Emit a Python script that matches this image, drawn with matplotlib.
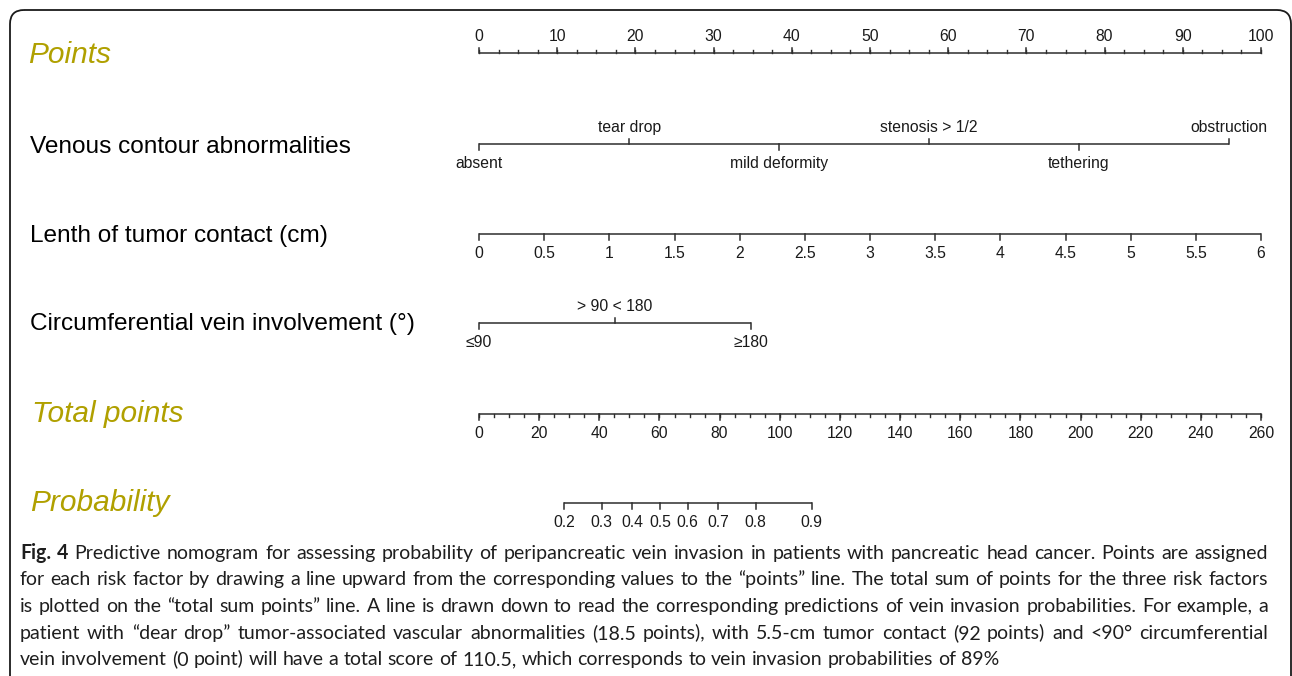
import numpy as np
import matplotlib
matplotlib.use('Agg')
import matplotlib.pyplot as plt
from matplotlib.patches import FancyBboxPatch

W, H = 1292, 676
X0, X100 = 479, 1261  # pixel columns of 0 and 100 points
OLIVE = '#b0a000'
INK = '#2e2e2e'
AXIS_FONT = 'Liberation Sans'
CAPTION_FONT = 'Lato'

# ---- data ----
points_ticks = [0, 10, 20, 30, 40, 50, 60, 70, 80, 90, 100]

venous_labels = ['absent', 'tear drop', 'mild deformity', 'stenosis > 1/2', 'tethering', 'obstruction']
venous_points = [0, 19.2, 38.4, 57.5, 76.7, 95.9]
venous_above = [False, True, False, True, False, True]

length_cm = [0, 0.5, 1, 1.5, 2, 2.5, 3, 3.5, 4, 4.5, 5, 5.5, 6]
length_max_points = 100

circ_labels = ['\u226490', '> 90 < 180', '\u2265180']
circ_points = [0, 17.4, 34.8]
circ_above = [False, True, False]

total_ticks = [0, 20, 40, 60, 80, 100, 120, 140, 160, 180, 200, 220, 240, 260]
total_max = 260

prob_labels = ['0.2', '0.3', '0.4', '0.5', '0.6', '0.7', '0.8', '0.9']
prob_total = [28.4, 40.8, 50.9, 60.2, 69.4, 79.6, 92.0, 110.6]

row_names = ['Points', 'Venous contour abnormalities', 'Lenth of tumor contact (cm)',
             'Circumferential vein involvement (\u00b0)', 'Total points', 'Probability']
row_title = [True, False, False, False, True, True]
row_y = [53, 144, 234, 323, 414, 503]
name_base = [63, 153, 242, 330, 422, 511]
name_x = [28, 30, 30, 30, 32, 30]

caption = [
    'Predictive nomogram for assessing probability of peripancreatic vein invasion in patients with pancreatic head cancer. Points are assigned',
    'for each risk factor by drawing a line upward from the corresponding values to the \u201cpoints\u201d line. The total sum of points for the three risk factors',
    'is plotted on the \u201ctotal sum points\u201d line. A line is drawn down to read the corresponding predictions of vein invasion probabilities. For example, a',
    'patient with \u201cdear drop\u201d tumor-associated vascular abnormalities (18.5 points), with 5.5-cm tumor contact (92 points) and <90\u00b0 circumferential',
    'vein involvement (0 point) will have a total score of 110.5, which corresponds to vein invasion probabilities of 89%',
]
caption_base = [559, 585, 612, 639, 665]

fig = plt.figure(figsize=(W / 100, H / 100), dpi=100)
frame = fig.add_axes([0, 0, 1, 1])
frame.set_xlim(0, W)
frame.set_ylim(H, 0)
frame.axis('off')

ppp = (X100 - X0) / 100.0
ax = fig.add_axes([0, 0, 1, 1])
ax.set_xlim(-X0 / ppp, (W - X0) / ppp)
ax.set_ylim(H, 0)
ax.axis('off')

frame.add_patch(FancyBboxPatch((10, 10), 1291 - 10, 700, boxstyle='round,pad=0,rounding_size=14',
                               fc='none', ec='#1a1a1a', lw=1.3, clip_on=False))


def scale(y, pos, labels, above, minor=None, tick=5.5, fs=11.3):
    ax.plot([min(pos), max(pos)], [y, y], color=INK, lw=1.1, solid_capstyle='butt')
    if minor is not None:
        for m in minor:
            d = -1 if above[0] else 1
            ax.plot([m, m], [y, y + d * tick * 0.55], color=INK, lw=1.0)
    for p, lab, up in zip(pos, labels, above):
        d = -1 if up else 1
        ax.plot([p, p], [y, y + d * tick], color=INK, lw=1.1)
        ax.text(p, y - 12 if up else y + 24, lab, ha='center', va='baseline',
                fontsize=fs, family=AXIS_FONT, color='#1a1a1a')


# Points
scale(row_y[0], points_ticks, [str(t) for t in points_ticks], [True] * len(points_ticks),
      minor=np.arange(0, 100.01, 2.5))
# Venous contour abnormalities
scale(row_y[1], venous_points, venous_labels, venous_above)
# Length of tumor contact
lp = [c / length_cm[-1] * length_max_points for c in length_cm]
scale(row_y[2], lp, ['%g' % c for c in length_cm], [False] * len(lp))
# Circumferential vein involvement
scale(row_y[3], circ_points, circ_labels, circ_above)
# Total points
tp = [t / total_max * 100 for t in total_ticks]
scale(row_y[4], tp, [str(t) for t in total_ticks], [False] * len(tp),
      minor=np.arange(0, total_max + 0.01, 5) / total_max * 100)
# Probability
pp = [t / total_max * 100 for t in prob_total]
scale(row_y[5], pp, prob_labels, [False] * len(pp))

for name, big, yb, x in zip(row_names, row_title, name_base, name_x):
    if big:
        frame.text(x, yb, name, fontsize=21.5, style='italic', color=OLIVE,
                   family=AXIS_FONT, va='baseline', ha='left')
    else:
        frame.text(x, yb, name, fontsize=17.6, color='black',
                   family=AXIS_FONT, va='baseline', ha='left')

# ---- caption, justified like the journal layout ----
renderer = fig.canvas.get_renderer()
left, right = 20, 1268


def width_of(s, fs, weight='normal'):
    t = frame.text(0, 0, s, fontsize=fs, family=CAPTION_FONT, fontweight=weight)
    w = t.get_window_extent(renderer).width
    t.remove()
    return w


full = ['Fig. 4 ' + caption[0]] + caption[1:]
widest = max(width_of(s, 10) for s in full)
cfs = 10 * (right - left - 12) / widest

for i, (line, y) in enumerate(zip(caption, caption_base)):
    words = line.split(' ')
    weights = ['normal'] * len(words)
    if i == 0:
        words = ['Fig.', '4'] + words
        weights = ['bold', 'bold'] + weights
    widths = [width_of(w, cfs, wt) for w, wt in zip(words, weights)]
    space = width_of('a a', cfs) - width_of('aa', cfs)
    if i < len(caption) - 1:
        gap = (right - left - sum(widths)) / (len(words) - 1)
    else:
        gap = space
    x = left
    for w, wt, ww in zip(words, weights, widths):
        frame.text(x, y, w, fontsize=cfs, family=CAPTION_FONT, fontweight=wt,
                   color='#1e1e1e', va='baseline', ha='left')
        x += ww + gap

fig.savefig('out.png', dpi=100)
